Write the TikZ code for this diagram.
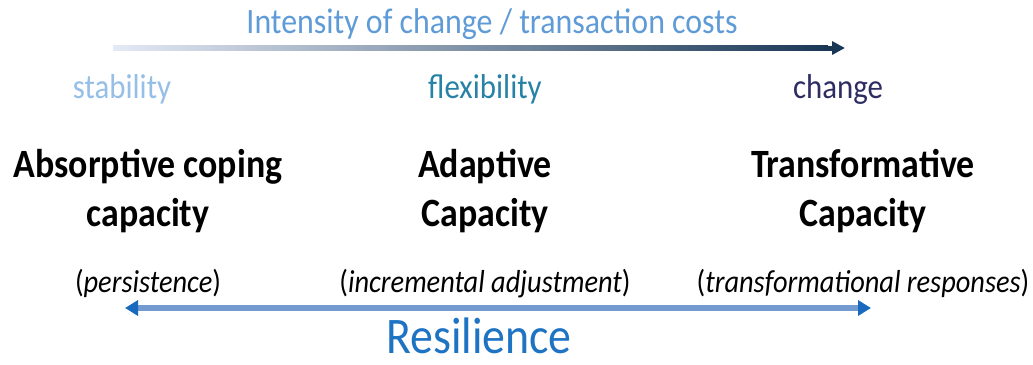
\documentclass[tikz,border=0pt]{standalone}
\usepackage{fontspec}
\setmainfont{Carlito}
\usepackage{graphicx}
\usetikzlibrary{arrows.meta,calc}
\definecolor{titleblue}{RGB}{95,155,215}
\definecolor{stabblue}{RGB}{150,190,230}
\definecolor{flexteal}{RGB}{40,130,165}
\definecolor{changenavy}{RGB}{45,45,100}
\definecolor{shaftblue}{RGB}{115,155,208}
\definecolor{headblue}{RGB}{25,105,190}
\definecolor{resblue}{RGB}{30,115,195}
\definecolor{arrownavy}{RGB}{25,55,85}
\definecolor{arrowmid}{RGB}{200,212,234}
\definecolor{arrowlight}{RGB}{228,234,245}
\newcommand{\vstr}[1]{\scalebox{1}[1.12]{#1}}
\begin{document}
\begin{tikzpicture}[x=1bp,y=-1bp,
  every node/.style={inner sep=0pt,outer sep=0pt,anchor=base},
  titletxt/.style={font=\fontsize{32}{38}\selectfont, text=titleblue},
  leveltxt/.style={font=\fontsize{31}{37}\selectfont},
  captxt/.style={font=\fontsize{36}{43}\selectfont\bfseries, text=black},
  desctxt/.style={font=\fontsize{28.5}{34}\selectfont, text=black},
  restxt/.style={font=\fontsize{46}{55}\selectfont, text=resblue}]
\useasboundingbox (0,0) rectangle (1033,364);

% title and top arrow
\node[titletxt] (title) at (492,33) {\vstr{Intensity of change / transaction costs}};
\coordinate (ta) at (113,48);
\coordinate (th) at (826,48);
\coordinate (tb) at (845,48);
\shade[left color=arrowlight, middle color=arrowmid, right color=arrownavy]
  ($(ta)+(0,-2.5)$) rectangle ($(th)+(2,2.5)$);
\draw[arrownavy, line width=5bp, -{Triangle[length=13bp,width=13bp]}] (th) -- (tb);

% level labels
\node[leveltxt, text=stabblue] (stab) at (122,98) {\vstr{stability}};
\node[leveltxt, text=flexteal] (flex) at (485,98) {\vstr{flexibility}};
\node[leveltxt, text=changenavy] (chg) at (838,98) {\vstr{change}};

% capacities
\node[captxt] (abs1) at (148,177) {\vstr{Absorptive coping}};
\node[captxt] (abs2) at (148,226) {\vstr{capacity}};
\node[captxt] (ada1) at (485,177) {\vstr{Adaptive}};
\node[captxt] (ada2) at (485,226) {\vstr{Capacity}};
\node[captxt] (tra1) at (863,177) {\vstr{Transformative}};
\node[captxt] (tra2) at (863,226) {\vstr{Capacity}};

% descriptions
\node[desctxt] (per) at (148,292) {\vstr{(\textit{persistence})}};
\node[desctxt] (inc) at (485,292) {\vstr{(\textit{incremental adjustment})}};
\node[desctxt] (trr) at (863,292) {\vstr{(\textit{transformational responses})}};

% resilience arrow
\coordinate (ba) at (125,308);
\coordinate (bb) at (871,308);
\draw[shaftblue, line width=6bp,
  {Triangle[length=13bp,width=15bp,color=headblue]}-{Triangle[length=13bp,width=15bp,color=headblue]}]
  (ba) -- (bb);
\node[restxt] (res) at (479,353) {\vstr{Resilience}};
\end{tikzpicture}
\end{document}
